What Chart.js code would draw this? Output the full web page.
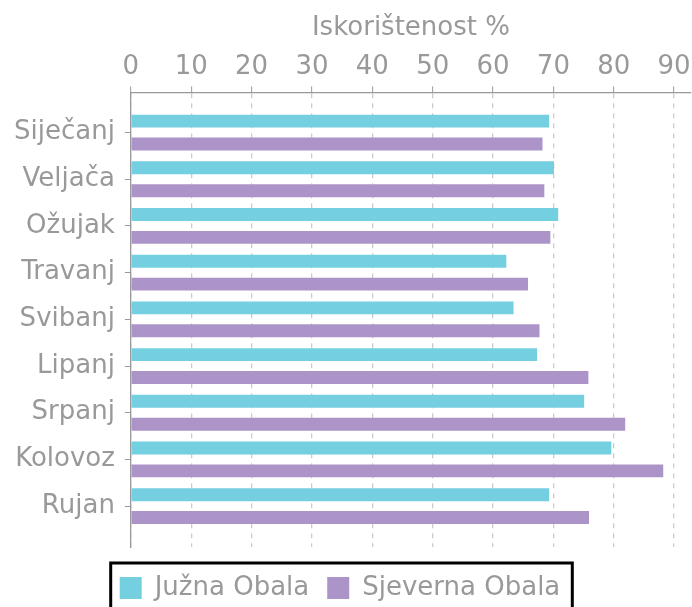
<!DOCTYPE html>
<html>
<head>
<meta charset="utf-8">
<script src="https://cdn.jsdelivr.net/npm/chart.js@4"></script>
<style>
  html, body { margin: 0; padding: 0; background: #fff; }
  #wrap { width: 692px; height: 607px; }
</style>
</head>
<body>
<div id="wrap"><canvas id="barChart"></canvas></div>
<script>
const months = ['Siječanj', 'Veljača', 'Ožujak', 'Travanj', 'Svibanj', 'Lipanj', 'Srpanj', 'Kolovoz', 'Rujan'];
const juzna = [69.3, 70.1, 70.8, 62.2, 63.4, 67.3, 75.1, 79.6, 69.3];
const sjeverna = [68.2, 68.5, 69.5, 65.8, 67.7, 75.8, 81.9, 88.2, 75.9];
const xTicks = [0, 10, 20, 30, 40, 50, 60, 70, 80, 90];

const grey = '#999999';
const font = { family: 'DejaVu Sans', size: 26 };

// nudge the legend a bit to the left, the reference is not centred on the canvas
const legendShift = {
  id: 'legendShift',
  afterLayout(chart) {
    chart.legend.left -= 7.5;
    chart.legend.right -= 7.5;
  }
};

// black frame round the legend
const legendBorder = {
  id: 'legendBorder',
  afterDraw(chart) {
    const lg = chart.legend;
    if (!lg || !lg.legendHitBoxes.length) return;
    const boxes = lg.legendHitBoxes;
    const left = Math.min(...boxes.map(b => b.left)) - 9;
    const right = Math.max(...boxes.map(b => b.left + b.width)) + 12;
    const top = boxes[0].top - 12;
    const ctx = chart.ctx;
    ctx.save();
    ctx.strokeStyle = '#000';
    ctx.lineWidth = 3;
    ctx.strokeRect(left, top, right - left, 80);
    ctx.restore();
  }
};

new Chart(document.getElementById('barChart'), {
  type: 'bar',
  data: {
    datasets: [
      {
        label: 'Južna Obala',
        data: juzna.map((v, i) => ({ x: v, y: i })),
        backgroundColor: '#74cfe1'
      },
      {
        label: 'Sjeverna Obala',
        data: sjeverna.map((v, i) => ({ x: v, y: i })),
        backgroundColor: '#ac94c8'
      }
    ]
  },
  options: {
    indexAxis: 'y',
    responsive: true,
    maintainAspectRatio: false,
    animation: false,
    categoryPercentage: 0.98,
    barPercentage: 0.565,
    layout: { padding: { left: 4, right: 1, top: 0, bottom: -4 } },
    scales: {
      x: {
        type: 'linear',
        position: 'top',
        min: 0,
        max: 92.8,
        afterBuildTicks: s => { s.ticks = xTicks.map(v => ({ value: v })); },
        // let the plot run to the right edge, the "90" label still fits
        afterFit: s => { s.paddingRight = 0; },
        ticks: { color: grey, font: font, padding: 4 },
        title: { display: true, text: 'Iskorištenost %', color: grey, font: font, padding: { top: 13, bottom: 3 } },
        grid: { color: '#cccccc', lineWidth: 1.3, tickColor: grey, tickLength: 6, tickWidth: 1 },
        border: { color: grey, width: 1.3, dash: [5, 5] }
      },
      y: {
        type: 'linear',
        reverse: true,
        offset: false,
        min: -0.86,
        max: 8.875,
        afterBuildTicks: s => { s.ticks = months.map((m, i) => ({ value: i })); },
        ticks: { color: grey, font: font, padding: 10, callback: v => months[v] },
        grid: { offset: false, drawOnChartArea: false, color: grey, tickLength: 6 },
        border: { color: grey, width: 1.3 }
      }
    },
    plugins: {
      tooltip: { enabled: false },
      legend: {
        position: 'bottom',
        title: { display: true, text: ' ', font: { size: 5 }, padding: 2 },
        labels: { color: grey, font: font, boxWidth: 22, boxHeight: 22, padding: 18 }
      }
    }
  },
  plugins: [legendShift, legendBorder]
});
</script>
</body>
</html>
